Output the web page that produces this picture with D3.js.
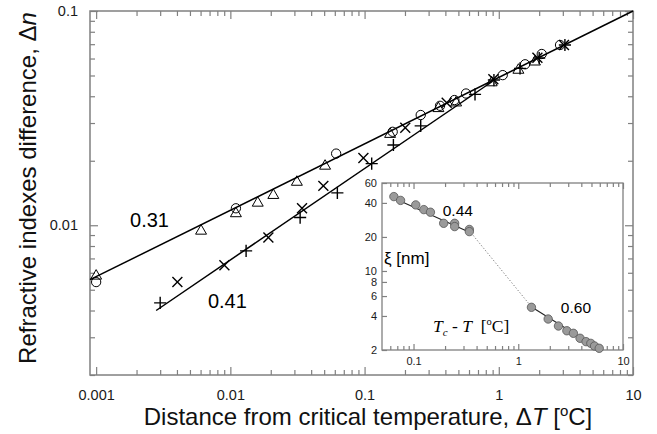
<!DOCTYPE html>
<html><head><meta charset="utf-8">
<script src="https://cdn.jsdelivr.net/npm/d3@7"></script>
<style>body{margin:0;background:#fff}svg{display:block}</style>
</head><body>
<svg id="c" width="657" height="434"></svg>
<script>
// ---------- data (ΔT [°C], Δn) ----------
const circles = [[0.001,0.00543],[0.0110,0.0120],[0.0614,0.0216],[0.162,0.0273],[0.262,0.0327],[0.365,0.0361],[0.467,0.0384],[0.570,0.0412],[1.07,0.0502],[1.57,0.0564],[2.09,0.0630],[2.86,0.0694]];
const triangles = [[0.001,0.0058],[0.00605,0.0094],[0.0110,0.01134],[0.0160,0.0127],[0.0209,0.0138],[0.0313,0.0159],[0.0508,0.0189],[0.155,0.0266],[0.355,0.0351],[0.481,0.0373],[0.885,0.0463],[1.40,0.0530],[1.86,0.0579]];
const crosses = [[0.00403,0.00543],[0.00903,0.0065],[0.0192,0.00876],[0.0342,0.0120],[0.0493,0.01527],[0.098,0.0206],[0.201,0.0285],[0.409,0.0373],[0.911,0.0480],[1.94,0.0605],[3.06,0.0694]];
const pluses = [[0.0030,0.00434],[0.0131,0.00759],[0.0331,0.01086],[0.0627,0.01416],[0.113,0.0194],[0.164,0.0237],[0.262,0.0291],[0.665,0.0408],[0.92,0.0476],[1.44,0.0540],[2.0,0.0603],[3.11,0.0694]];
const fit031 = [[0.0009,0.00557],[10,0.1]];
const fit041 = [[0.0028,0.0040],[0.9,0.047]];
const fitLabels = [["0.31",0.00179,0.0098],["0.41",0.0068,0.00409]];

const xTicks = [0.001,0.01,0.1,1,10];
const xTickLabels = ["0.001","0.01","0.1","1","10"];
const yTicks = [0.01,0.1];
const yTickLabels = ["0.01","0.1"];

// inset (Tc - T [°C], ξ [nm])
const xiLow = [[0.0649,45.5],[0.0752,42.1],[0.105,38.4],[0.1254,34.9],[0.145,33.1],[0.194,26.4],[0.247,26.4],[0.247,24.7],[0.341,23.3],[0.341,22.3]];
const xiHigh = [[1.336,4.77],[1.93,3.76],[2.42,3.26],[2.91,2.96],[3.36,2.81],[3.89,2.54],[4.44,2.37],[4.93,2.29],[5.35,2.17],[5.93,2.07]];
const xiFitLow = [[0.062,44.9],[0.355,21.7]];
const xiDotted = [[0.355,21.7],[1.34,4.8]];
const xiFitHigh = [[1.34,4.8],[6.0,2.02]];
const insetXTicks = [0.1,1,10];
const insetXTickLabels = ["0.1","1","10"];
const insetYTicks = [2,4,6,8,10,20,40,60];
const insetYTickLabels = ["2","4","6","8","10","20","40","60"];
const insetLabels = [["0.44",0.19,30.5],["0.60",2.55,4.25]];

// ---------- drawing ----------
const SANS = "Liberation Sans, Arial, Helvetica, sans-serif";
const SERIF = "Liberation Serif, Times New Roman, serif";
const GRAY = "#808080";
const svg = d3.select("#c");

const x = d3.scaleLog().domain([0.0009,10]).range([90,633]);
const y = d3.scaleLog().domain([0.002,0.1]).range([375,11]);

function minors(lo, hi){ const out=[]; for(let d=lo; d<hi*0.999; d*=10){ for(let k=2;k<=9;k++) out.push(d*k);} return out; }
const xMinor = minors(0.001,10);
const yMinor = minors(0.001,0.1).filter(v=>v>=0.002*0.999);

function axis(gen, tr, vals, size, fmt, pad, fs, col){
  const g = svg.append("g").attr("transform", tr)
    .call(gen.tickValues(vals).tickSize(size).tickPadding(pad).tickFormat(fmt));
  g.select(".domain").remove();
  g.selectAll("line").attr("stroke", col||GRAY).attr("stroke-width",1.2);
  g.selectAll("text").attr("font-family",SANS).attr("font-size",fs||14.5).attr("fill","#1a1a1a");
  return g;
}
// main axes
axis(d3.axisBottom(x), "translate(0,375)", xTicks, -8, (d,i)=>xTickLabels[i], 15);
axis(d3.axisBottom(x), "translate(0,375)", xMinor, -5, "", 0);
axis(d3.axisTop(x), "translate(0,11)", xTicks, -8, "", 0);
axis(d3.axisTop(x), "translate(0,11)", xMinor, -5, "", 0);
axis(d3.axisLeft(y), "translate(90,0)", yTicks, -8, (d,i)=>yTickLabels[i], 12);
axis(d3.axisLeft(y), "translate(90,0)", yMinor, -5, "", 0);
axis(d3.axisRight(y), "translate(633,0)", yTicks, -8, "", 0);
axis(d3.axisRight(y), "translate(633,0)", yMinor, -5, "", 0);
svg.append("rect").attr("x",x.range()[0]).attr("y",y.range()[1])
  .attr("width",x.range()[1]-x.range()[0]).attr("height",y.range()[0]-y.range()[1])
  .attr("fill","none").attr("stroke",GRAY).attr("stroke-width",1.5);

// fit lines
const line = d3.line().x(d=>x(d[0])).y(d=>y(d[1]));
[fit031, fit041].forEach(f=>svg.append("path").attr("d",line(f)).attr("fill","none").attr("stroke","#000").attr("stroke-width",1.5));

// markers
function marks(data, type, size, sw){
  svg.append("g").selectAll("path").data(data).join("path")
    .attr("transform", d=>`translate(${x(d[0])},${y(d[1])})`)
    .attr("d", d3.symbol(type, size)())
    .attr("fill","none").attr("stroke","#000").attr("stroke-width",sw);
}
marks(circles, d3.symbolCircle, 68, 1);
marks(triangles, d3.symbolTriangle, 52, 1);
marks(crosses, d3.symbolTimes, 66, 1.4);
marks(pluses, d3.symbolPlus, 50, 1.4);

svg.append("g").selectAll("text").data(fitLabels).join("text")
  .attr("x",d=>x(d[1])).attr("y",d=>y(d[2])).attr("font-family",SANS).attr("font-size",20).text(d=>d[0]);

// axis titles
const xt = svg.append("text").attr("x",368).attr("y",425).attr("text-anchor","middle")
  .attr("font-family",SANS).attr("font-size",24).attr("fill","#111");
xt.append("tspan").text("Distance from critical temperature, Δ");
xt.append("tspan").attr("font-style","italic").text("T");
xt.append("tspan").text(" [");
xt.append("tspan").attr("font-size",15).attr("dy",-9).text("o");
xt.append("tspan").attr("dy",9).text("C]");

const yt = svg.append("text").attr("transform","translate(36,188) rotate(-90)").attr("text-anchor","middle")
  .attr("font-family",SANS).attr("font-size",24).attr("fill","#111");
yt.append("tspan").text("Refractive indexes difference, Δ");
yt.append("tspan").attr("font-style","italic").text("n");

// ---------- inset ----------
const xi = d3.scaleLog().domain([0.05,10]).range([382,623]);
const yi = d3.scaleLog().domain([2,60]).range([350,183]);
svg.append("rect").attr("x",382).attr("y",183).attr("width",241).attr("height",167)
  .attr("fill","#fff").attr("stroke","none");
const ixMinor = minors(0.01,10).filter(v=>v>=0.06*0.999 && v<=10);
axis(d3.axisBottom(xi), "translate(0,350)", insetXTicks, -6, (d,i)=>insetXTickLabels[i], 7, 11);
axis(d3.axisBottom(xi), "translate(0,350)", ixMinor, -4, "", 0);
axis(d3.axisTop(xi), "translate(0,183)", insetXTicks, -6, "", 0);
axis(d3.axisTop(xi), "translate(0,183)", ixMinor, -4, "", 0);
axis(d3.axisLeft(yi), "translate(382,0)", insetYTicks, -5, (d,i)=>insetYTickLabels[i], 5, 11);
svg.append("rect").attr("x",382).attr("y",183).attr("width",241).attr("height",167)
  .attr("fill","none").attr("stroke",GRAY).attr("stroke-width",1.3);

const iline = d3.line().x(d=>xi(d[0])).y(d=>yi(d[1]));
[xiFitLow, xiFitHigh].forEach(f=>svg.append("path").attr("d",iline(f)).attr("fill","none").attr("stroke","#222").attr("stroke-width",1.1));
svg.append("path").attr("d",iline(xiDotted)).attr("fill","none").attr("stroke","#777").attr("stroke-width",1).attr("stroke-dasharray","1.2,2");
svg.append("g").selectAll("circle").data(xiLow.concat(xiHigh)).join("circle")
  .attr("cx",d=>xi(d[0])).attr("cy",d=>yi(d[1])).attr("r",4.2)
  .attr("fill","#9a9a9a").attr("stroke","#555").attr("stroke-width",0.8);

svg.append("g").selectAll("text").data(insetLabels).join("text")
  .attr("x",d=>xi(d[1])).attr("y",d=>yi(d[2])).attr("font-family",SANS).attr("font-size",15.5).text(d=>d[0]);
svg.append("text").attr("x",384).attr("y",264).attr("font-family",SANS).attr("font-size",17).text("ξ [nm]");
const tt = svg.append("text").attr("x",433).attr("y",332).attr("font-family",SERIF).attr("font-size",17.5);
tt.append("tspan").attr("font-style","italic").text("T");
tt.append("tspan").attr("font-style","italic").attr("font-size",11).attr("dy",4).text("c");
tt.append("tspan").attr("dy",-4).text(" - ");
tt.append("tspan").attr("font-style","italic").text("T");
tt.append("tspan").attr("xml:space","preserve").text("  [");
tt.append("tspan").attr("font-size",10.5).attr("dy",-7).text("o");
tt.append("tspan").attr("dy",7).text("C]");
</script>
</body></html>
